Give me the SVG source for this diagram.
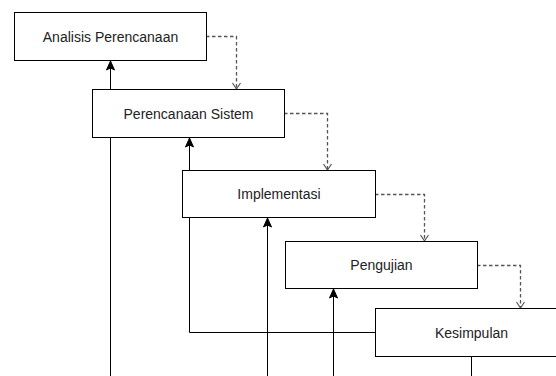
<svg xmlns="http://www.w3.org/2000/svg" width="556" height="376" viewBox="0 0 556 376">
  <defs>
    <marker id="arrowFilled" markerUnits="userSpaceOnUse" markerWidth="12" markerHeight="12" viewBox="-10 -6 11 12" refX="0" refY="0" orient="auto">
      <path d="M0,0 L-9,-4 L-7,0 L-9,4 Z" fill="#000" stroke="#000" stroke-width="1"/>
    </marker>
    <marker id="arrowOpen" markerUnits="userSpaceOnUse" markerWidth="12" markerHeight="12" viewBox="-8 -6 10 12" refX="0" refY="0" orient="auto">
      <path d="M-6,-4 L0,0 L-6,4" fill="none" stroke="#555" stroke-width="1.2"/>
    </marker>
    <style>
      .node rect { fill: #fff; stroke: #000; stroke-width: 1; }
      .node text { font-family: "Liberation Sans", Arial, sans-serif; font-size: 14px; fill: #222; text-anchor: middle; dominant-baseline: central; }
      .flow { fill: none; stroke: #555; stroke-width: 1.3; stroke-dasharray: 3.5 2.5; marker-end: url(#arrowOpen); }
      .back { fill: none; stroke: #000; stroke-width: 1; }
      .back.arr { marker-end: url(#arrowFilled); }
    </style>
  </defs>

  <g id="connectors">
    <path class="back arr" d="M110.5,380 V61"/>
    <path class="back arr" d="M375,332.5 H189.5 V138"/>
    <path class="back arr" d="M267.5,380 V218"/>
    <path class="back arr" d="M333.5,380 V289"/>
    <path class="back" d="M471.5,357 V380"/>
    <path class="flow" d="M206,36.5 H236.5 V89"/>
    <path class="flow" d="M284,113.5 H327.5 V170"/>
    <path class="flow" d="M375,194.5 H424.5 V241"/>
    <path class="flow" d="M477,265.5 H520.5 V308"/>
  </g>

  <g id="analisis" class="node">
    <rect x="14.5" y="12.5" width="192" height="48"/>
    <text x="110.5" y="37">Analisis Perencanaan</text>
  </g>
  <g id="perencanaan" class="node">
    <rect x="92.5" y="89.5" width="192" height="48"/>
    <text x="188.5" y="114">Perencanaan Sistem</text>
  </g>
  <g id="implementasi" class="node">
    <rect x="182.5" y="170.5" width="193" height="47"/>
    <text x="279" y="194">Implementasi</text>
  </g>
  <g id="pengujian" class="node">
    <rect x="285.5" y="241.5" width="192" height="47"/>
    <text x="381.5" y="265">Pengujian</text>
  </g>
  <g id="kesimpulan" class="node">
    <rect x="375.5" y="308.5" width="192" height="48"/>
    <text x="471.5" y="333">Kesimpulan</text>
  </g>
</svg>
